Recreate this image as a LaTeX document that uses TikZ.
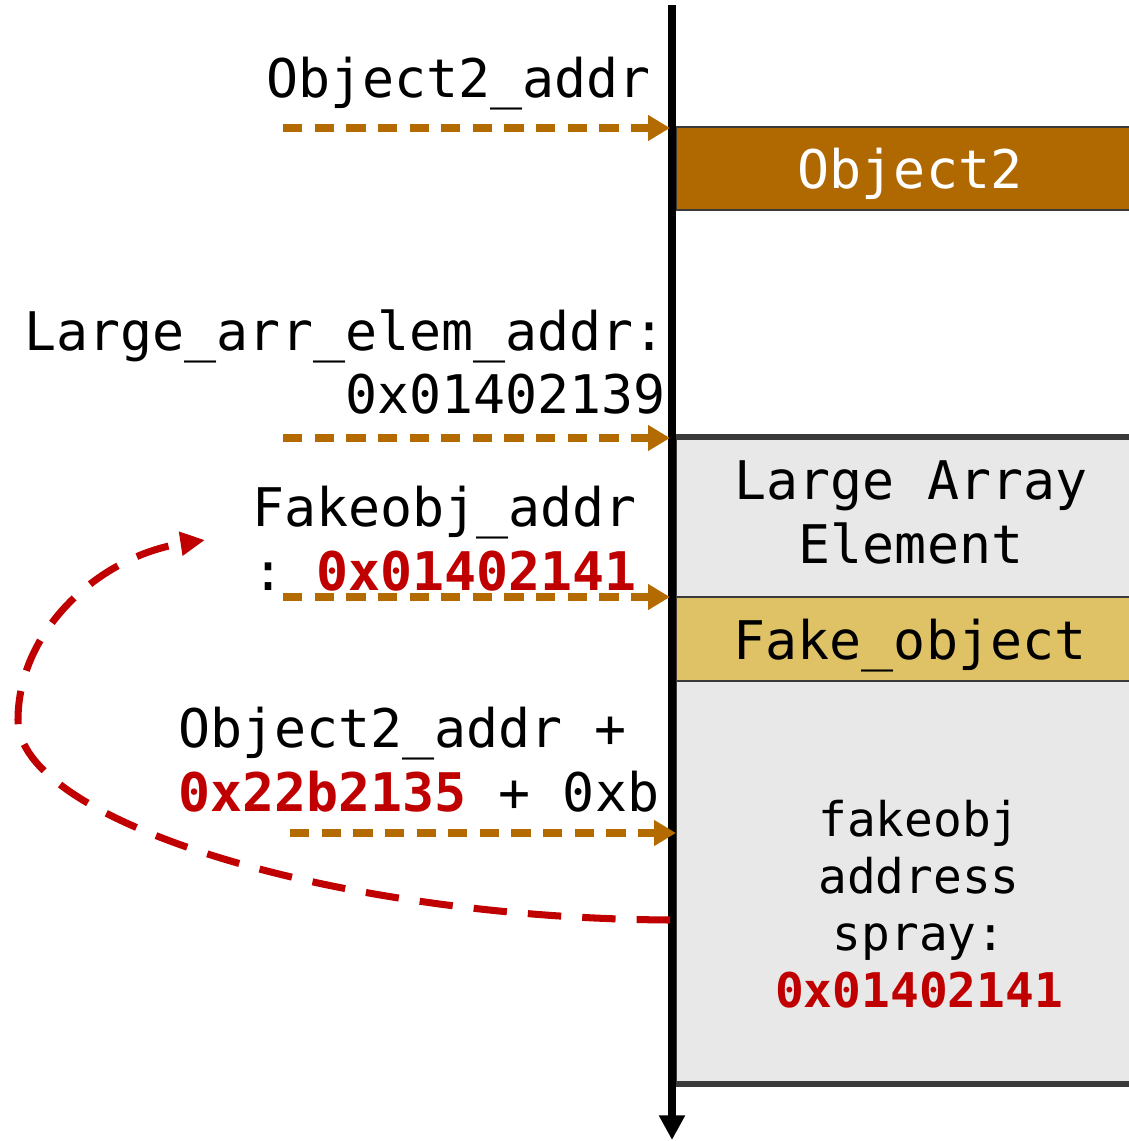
\documentclass[tikz,border=0pt]{standalone}
\usepackage{fontspec}
\setmonofont{DejaVu Sans Mono}
\usetikzlibrary{arrows.meta, positioning}
\definecolor{objbrown}{HTML}{B06800}
\definecolor{ptrorange}{HTML}{B36B00}
\definecolor{hotred}{HTML}{C00000}
\definecolor{fakegold}{HTML}{E0C266}
\definecolor{memgray}{HTML}{E8E8E8}
\definecolor{rimgray}{HTML}{3A3A3A}
\newcommand{\hot}[1]{\textcolor{hotred}{\bfseries #1}}
\tikzset{
  lbl/.style={font=\ttfamily\fontsize{30.3}{36}\selectfont, inner sep=0pt},
  spraytxt/.style={font=\ttfamily\fontsize{27.2}{32.4}\selectfont, inner sep=0pt},
  mem/.style={draw=rimgray, line width=1.4pt, fill=#1, minimum width=9.36cm, inner sep=0pt},
  ptr/.style={ptrorange, line width=4.5pt, dash pattern=on 11pt off 7pt, -{Triangle[length=12.5pt, width=14pt]}},
  jump/.style={hotred, line width=4pt, dash pattern=on 19pt off 12pt, -{Triangle[length=14pt, width=13pt]}},
  memaxis/.style={line width=4pt, -{Triangle[length=14pt, width=14pt]}},
  rim/.style={rimgray, line width=3.4pt},
}

\begin{document}
\begin{tikzpicture}[x=0.02cm, y=0.02cm]
    \useasboundingbox (0,0) rectangle (1128,-1141);
    % memory blocks
    \node[mem=objbrown, minimum height=1.66cm, lbl, text=white, text depth=0pt] (obj2) at (910,-168.5) {Object2};
    \node[mem=memgray, minimum height=12.9cm] (larr) at (910,-760.5) {};
    \draw[rim] (larr.north west) -- (larr.north east);
    \draw[rim] (larr.south west) -- (larr.south east);
    \node[lbl, align=center, anchor=base] (larrtxt) at (911,-563) {Large Array\\Element};
    \node[mem=fakegold, minimum height=1.68cm, lbl, text depth=0pt] (fake) at (910,-639) {Fake\_object};
    \node[spraytxt, align=center, anchor=base] (spray) at (919,-1007) {fakeobj\\address\\spray:\\\hot{0x01402141}};
    % address axis
    \coordinate (top) at (672,-5);
    \coordinate (bot) at (672,-1140);
    \draw[memaxis] (top) -- (bot);
    % labels
    \node[lbl, anchor=base east] (o2addr) at (651,-98) {Object2\_addr};
    \node[lbl, anchor=base east, align=right] (laddr) at (666,-414) {Large\_arr\_elem\_addr:\\0x01402139};
    \node[lbl, anchor=base west, align=left] (faddr) at (252,-590) {Fakeobj\_addr\\: \hot{0x01402141}};
    \node[lbl, anchor=base west, align=left] (oaddr) at (178,-811) {Object2\_addr +\\\hot{0x22b2135} + 0xb};
    % pointers
    \coordinate (p1) at (283,-128);  \coordinate (q1) at (670,-128);
    \coordinate (p2) at (283,-438);  \coordinate (q2) at (670,-438);
    \coordinate (p3) at (283,-597);  \coordinate (q3) at (670,-597);
    \coordinate (p4) at (290,-833);  \coordinate (q4) at (676,-833);
    \draw[ptr] (p1) -- (q1);
    \draw[ptr] (p2) -- (q2);
    \draw[ptr] (p3) -- (q3);
    \draw[ptr] (p4) -- (q4);
    \coordinate (spot) at (670,-920);
    \coordinate (back) at (205,-540);
    \draw[jump] (spot) .. controls (330,-918) and (18,-820) .. (18,-720)
                .. controls (18,-630) and (100,-556) .. (back);
\end{tikzpicture}
\end{document}
